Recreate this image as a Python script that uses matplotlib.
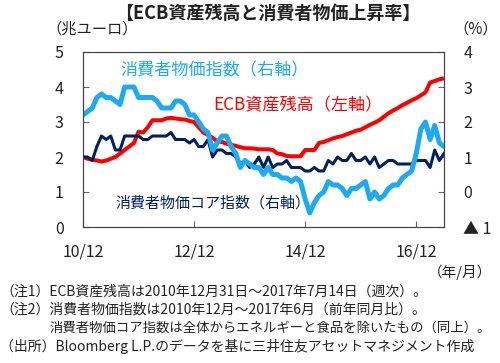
import matplotlib
matplotlib.use('Agg')
import matplotlib.pyplot as plt
from matplotlib.ticker import FuncFormatter

plt.rcParams['font.family'] = ['Noto Sans CJK JP', 'DejaVu Sans']

# months from 2010/12 (0) to 2017/06 (78)
months = list(range(79))

# ECB total assets (trillion euro), read at month ends
ecb = [2.00, 1.95, 1.92, 1.90, 1.87, 1.90, 1.95, 2.00, 2.10, 2.20, 2.30, 2.40,
       2.72, 2.70, 2.85, 3.05, 3.05, 3.05, 3.10, 3.12, 3.10, 3.08, 3.07, 3.03,
       3.00, 2.85, 2.70, 2.63, 2.55, 2.45, 2.43, 2.38, 2.35, 2.32, 2.28, 2.25,
       2.25, 2.24, 2.22, 2.22, 2.22, 2.20, 2.10, 2.08, 2.03, 2.02, 2.02, 2.02,
       2.20, 2.20, 2.20, 2.40, 2.43, 2.48, 2.53, 2.57, 2.60, 2.65, 2.70, 2.75,
       2.78, 2.85, 2.92, 2.98, 3.05, 3.15, 3.25, 3.33, 3.40, 3.48, 3.55, 3.62,
       3.68, 3.76, 3.85, 4.13, 4.17, 4.22, 4.25]

# CPI y/y (%)
cpi = [2.2, 2.3, 2.4, 2.7, 2.8, 2.7, 2.7, 2.6, 2.5, 3.0, 3.0, 3.0,
       2.7, 2.7, 2.7, 2.7, 2.6, 2.4, 2.4, 2.4, 2.6, 2.6, 2.5, 2.2,
       2.2, 2.0, 1.8, 1.7, 1.2, 1.4, 1.6, 1.6, 1.3, 1.1, 0.7, 0.9,
       0.8, 0.7, 0.7, 0.5, 0.7, 0.5, 0.5, 0.4, 0.4, 0.3, 0.4, 0.3,
       -0.2, -0.6, -0.3, -0.1, 0.0, 0.3, 0.2, 0.2, 0.1, -0.1, 0.1, 0.1,
       0.2, 0.3, -0.2, 0.0, -0.2, -0.1, 0.1, 0.2, 0.2, 0.4, 0.5, 0.6,
       1.1, 1.8, 2.0, 1.5, 1.9, 1.4, 1.3]

# core CPI y/y (%)
core = [1.0, 1.0, 0.9, 1.3, 1.6, 1.5, 1.6, 1.2, 1.2, 1.6, 1.6, 1.6,
        1.6, 1.5, 1.5, 1.6, 1.6, 1.6, 1.6, 1.7, 1.5, 1.5, 1.5, 1.4,
        1.5, 1.3, 1.3, 1.5, 1.0, 1.2, 1.2, 1.1, 1.1, 1.0, 0.8, 0.9,
        0.7, 0.8, 1.0, 0.7, 1.0, 0.7, 0.8, 0.8, 0.9, 0.7, 0.7, 0.7,
        0.6, 0.6, 0.7, 0.6, 0.6, 0.9, 0.8, 1.0, 0.9, 0.9, 1.1, 0.9,
        0.9, 1.0, 0.8, 1.0, 0.7, 0.8, 0.9, 0.9, 0.8, 0.8, 0.8, 0.8,
        0.9, 0.9, 0.9, 0.7, 1.2, 0.9, 1.1]

xticks = [0, 24, 48, 72]
xlabels = ['10/12', '12/12', '14/12', '16/12']

notes = [
    '（注1）ECB資産残高は2010年12月31日～2017年7月14日（週次）。',
    '（注2）消費者物価指数は2010年12月～2017年6月（前年同月比）。',
    '消費者物価コア指数は全体からエネルギーと食品を除いたもの（同上）。',
    '（出所）Bloomberg L.P.のデータを基に三井住友アセットマネジメント作成',
]

W, H = 500, 363
fig = plt.figure(figsize=(W / 100, H / 100), dpi=100)
ax = fig.add_axes([83 / W, 1 - 227 / H, (444 - 83) / W, (227 - 52) / H])
ax2 = ax.twinx()

txt = '#222222'
ax.plot(months, ecb, color='#ff0000', lw=2.9, solid_capstyle='butt')
ax2.plot(months, core, color='#002060', lw=2.2)
ax2.plot(months, cpi, color='#1eaaf0', lw=3.6)

ax.set_xlim(0, 78)
ax.set_ylim(0, 5)
ax2.set_ylim(-1, 4)
ax.set_yticks([0, 1, 2, 3, 4, 5])
ax2.set_yticks([-1, 0, 1, 2, 3, 4])
ax.set_xticks(xticks)
ax.set_xticklabels(xlabels)
ax2.yaxis.set_major_formatter(FuncFormatter(
    lambda v, p: ('▲ ' + str(int(abs(v)))) if v < 0 else str(int(v))))

ax.tick_params(axis='x', direction='in', length=4, pad=12, labelsize=11.5,
               colors='#666666', labelcolor=txt)
ax.tick_params(axis='y', direction='in', length=4, pad=14, labelsize=11.5,
               colors='#666666', labelcolor=txt)
ax2.tick_params(axis='y', direction='in', length=4, pad=14, labelsize=11.5,
                colors='#666666', labelcolor=txt)
for a in (ax, ax2):
    for s in a.spines.values():
        s.set_color('#444444')
        s.set_linewidth(0.8)

fig.text(268 / W, 1 - 13 / H, '【ECB資産残高と消費者物価上昇率】', ha='center',
         va='center', fontsize=13, fontweight='bold', color=txt)
fig.text(46 / W, 1 - 29 / H, '（兆ユーロ）', ha='left', va='center',
         fontsize=11, color=txt)
fig.text(453 / W, 1 - 29 / H, '（%）', ha='left', va='center',
         fontsize=11, color=txt)
fig.text(120 / W, 1 - 70 / H, '消費者物価指数（右軸）', ha='left', va='center',
         fontsize=12.3, color='#1eaaf0')
fig.text(213 / W, 1 - 105 / H, 'ECB資産残高（左軸）', ha='left', va='center',
         fontsize=12.3, color='#ff0000')
fig.text(115 / W, 1 - 203 / H, '消費者物価コア指数（右軸）', ha='left',
         va='center', fontsize=10.8, color='#002060')
fig.text(492 / W, 1 - 272 / H, '（年/月）', ha='right', va='center',
         fontsize=10.5, color=txt)
for i, line in enumerate(notes):
    x0 = 50 if i == 2 else 0
    fs = 9.6 if i == 2 else 10
    fig.text(x0 / W, 1 - (292 + 18 * i) / H, line, ha='left', va='center',
             fontsize=fs, color=txt)

fig.savefig('out.png', dpi=100)
